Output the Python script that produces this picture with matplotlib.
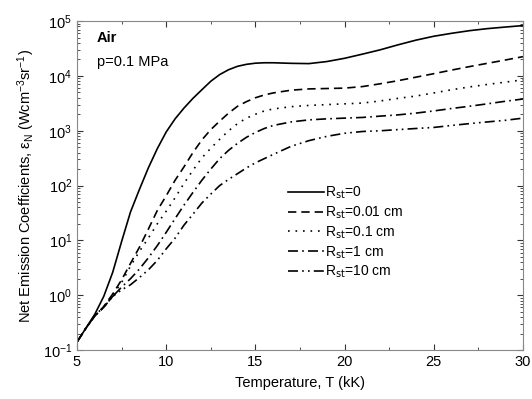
import matplotlib
matplotlib.use("Agg")
import matplotlib.pyplot as plt
from matplotlib.ticker import LogLocator, MultipleLocator, NullFormatter

plt.rcParams["font.family"] = ["Liberation Sans", "DejaVu Sans"]
plt.rcParams["mathtext.default"] = "regular"

# temperature grid (kK)
temp = [5, 5.5, 6, 6.5, 7, 7.5, 8, 8.5, 9, 9.5, 10, 10.5, 11, 11.5, 12, 12.5, 13, 13.5,
        14, 14.5, 15, 15.5, 16, 17, 18, 19, 20, 21, 22, 23, 24, 25, 26, 27, 28, 29, 30]

# net emission coefficients (W cm^-3 sr^-1)
r_0 = [0.14, 0.25, 0.45, 0.95, 2.6, 9.5, 33, 85, 210, 470, 950, 1650, 2600, 3900,
       5600, 8000, 10600, 13000, 15000, 16300, 17100, 17400, 17400, 17000, 16800,
       18300, 21000, 25000, 30000, 37000, 45000, 53000, 60000, 67000, 73000, 78000,
       83000]
r_001 = [0.14, 0.25, 0.42, 0.62, 1.05, 1.9, 3.8, 7.5, 16, 35, 65, 125, 220, 400, 680,
         1050, 1500, 2100, 2800, 3400, 4000, 4500, 4900, 5500, 5800, 5900, 6000, 6400,
         7200, 8200, 9500, 11000, 12800, 14800, 17000, 19500, 22500]
r_01 = [0.14, 0.25, 0.42, 0.62, 1.0, 1.7, 3.4, 6.3, 11, 20, 34, 60, 110, 190, 320, 480,
        700, 1000, 1350, 1700, 2000, 2300, 2500, 2750, 2900, 3000, 3100, 3200, 3500,
        3900, 4300, 4900, 5600, 6300, 7000, 7700, 8500]
r_1 = [0.14, 0.25, 0.42, 0.6, 0.95, 1.4, 2.0, 3.0, 4.8, 8, 14, 25, 44, 75, 125, 200,
       310, 440, 590, 760, 930, 1100, 1250, 1450, 1580, 1650, 1700, 1750, 1850, 1950,
       2100, 2300, 2550, 2800, 3100, 3450, 3800]
r_10 = [0.14, 0.25, 0.42, 0.6, 0.95, 1.25, 1.55, 2.1, 2.9, 4.3, 7, 11, 19, 30, 48, 70,
        100, 130, 165, 210, 260, 310, 370, 520, 660, 790, 900, 970, 1000, 1050, 1100,
        1150, 1250, 1350, 1450, 1550, 1700]

labels = ["R$_{\\rm st}$=0", "R$_{\\rm st}$=0.01 cm", "R$_{\\rm st}$=0.1 cm",
          "R$_{\\rm st}$=1 cm", "R$_{\\rm st}$=10 cm"]
series = [r_0, r_001, r_01, r_1, r_10]
dash_styles = ["-", (0, (5, 3)), (0, (1, 3.5)), (0, (6, 2.5, 1, 2.5)),
               (0, (6, 2.5, 1, 2.5, 1, 2.5))]

fig = plt.figure(figsize=(5.32, 3.99), dpi=100)
ax = fig.add_axes([0.1447, 0.1228, 0.8383, 0.8242])

for vals, ls, lab in zip(series, dash_styles, labels):
    ax.plot(temp, vals, color="black", linestyle=ls, linewidth=1.2, label=lab)

ax.set_yscale("log")
ax.set_xlim(5, 30)
ax.set_ylim(0.1, 1e5)
ax.xaxis.set_major_locator(MultipleLocator(5))
ax.xaxis.set_minor_locator(MultipleLocator(2.5))
ax.yaxis.set_major_locator(LogLocator(base=10, numticks=10))
ax.yaxis.set_minor_locator(LogLocator(base=10, subs=range(2, 10), numticks=20))
ax.yaxis.set_minor_formatter(NullFormatter())
ax.tick_params(which="both", direction="in", top=True, right=True, colors="#333333",
               labelsize=10.5, labelcolor="black")
ax.tick_params(which="major", length=4)
ax.tick_params(which="minor", length=2)
for sp in ax.spines.values():
    sp.set_color("#888888")
    sp.set_linewidth(0.8)

ax.set_xlabel("Temperature, T (kK)", fontsize=10.5, labelpad=5)
ax.set_ylabel("Net Emission Coefficients, $\\varepsilon_N$ (Wcm$^{-3}$sr$^{-1}$)",
              fontsize=10.5)

ax.text(0.045, 0.95, "Air", transform=ax.transAxes, fontsize=10.5,
        fontweight="bold", va="center")
ax.text(0.045, 0.877, "p=0.1 MPa", transform=ax.transAxes, fontsize=10.5,
        va="center")

ax.legend(loc="upper left", bbox_to_anchor=(0.46, 0.52), frameon=False,
          fontsize=10, handlelength=2.6, handletextpad=0.1, labelspacing=0.25,
          borderaxespad=0)

plt.savefig("out.png", dpi=100)
